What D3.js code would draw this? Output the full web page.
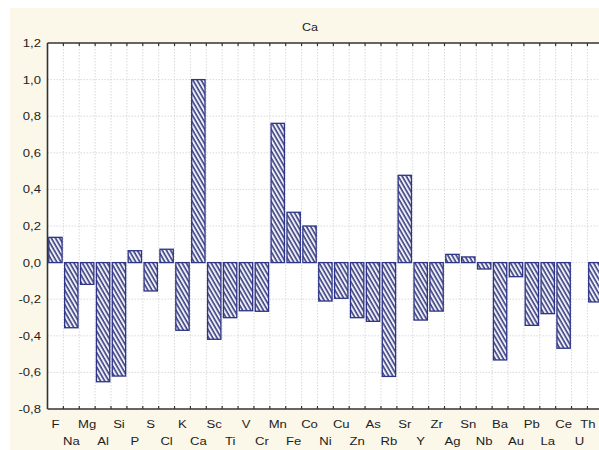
<!DOCTYPE html>
<html>
<head>
<meta charset="utf-8">
<script src="https://cdn.jsdelivr.net/npm/d3@7"></script>
<style>
  html, body { margin: 0; padding: 0; background: #ffffff; overflow: hidden; }
  svg { display: block; }
  text { font-family: "Liberation Sans", Arial, sans-serif; fill: #1e1e1e; }
</style>
</head>
<body>
<div id="chart"></div>
<script>
// Correlation of each element with Ca
const elements = ["F","Na","Mg","Al","Si","P","S","Cl","K","Ca","Sc","Ti","V","Cr","Mn","Fe","Co",
  "Ni","Cu","Zn","As","Rb","Sr","Y","Zr","Ag","Sn","Nb","Ba","Au","Pb","La","Ce","U","Th"];
const correlations = [0.138,-0.356,-0.119,-0.651,-0.62,0.065,-0.155,0.073,-0.37,1.0,-0.419,-0.301,-0.263,-0.266,0.761,0.275,0.2,
  -0.21,-0.195,-0.301,-0.321,-0.622,0.477,-0.314,-0.265,0.045,0.031,-0.035,-0.532,-0.077,-0.343,-0.279,-0.468,0,-0.215];
const yTicks = [-0.8,-0.6,-0.4,-0.2,0.0,0.2,0.4,0.6,0.8,1.0,1.2];
const chartTitle = "Ca";

const W = 599, H = 450;
const margin = { left: 47.5, top: 43, right: 603.3, bottom: 409 };
const stretch = 1.14; // glyphs are drawn slightly wide

const svg = d3.select("#chart").append("svg").attr("width", W).attr("height", H);

// panel background
svg.append("rect").attr("x", 10).attr("y", 8).attr("width", 640).attr("height", 450).attr("fill", "#fbf7e9");
svg.append("rect").attr("x", margin.left).attr("y", margin.top)
  .attr("width", margin.right - margin.left).attr("height", margin.bottom - margin.top).attr("fill", "#ffffff");

const x = d3.scaleBand().domain(elements).range([margin.left, margin.right]).paddingInner(0.16).paddingOuter(0.08);
const xb = d3.scaleBand().domain(elements).range([margin.left, margin.right]);
const y = d3.scaleLinear().domain([-0.8, 1.2]).range([margin.bottom, margin.top]);

// hatch pattern
const defs = svg.append("defs");
const pat = defs.append("pattern").attr("id", "hatch").attr("patternUnits", "userSpaceOnUse")
  .attr("width", 3.6).attr("height", 10).attr("patternTransform", "rotate(-30)");
pat.append("rect").attr("width", 3.6).attr("height", 10).attr("fill", "#eceef8");
pat.append("line").attr("x1", 1).attr("y1", 0).attr("x2", 1).attr("y2", 10)
  .attr("stroke", "#262a6e").attr("stroke-width", 1.4);

// grid lines
const grid = svg.append("g");
elements.forEach((e, i) => {
  if (i === 0) return;
  grid.append("line").attr("x1", xb(e)).attr("x2", xb(e)).attr("y1", margin.top).attr("y2", margin.bottom)
    .attr("stroke", "#cfcfcf").attr("stroke-width", 0.8).attr("stroke-dasharray", "1.5,1.5");
});
yTicks.forEach(t => {
  if (t === -0.8 || t === 1.2) return;
  grid.append("line").attr("x1", margin.left).attr("x2", margin.right).attr("y1", y(t)).attr("y2", y(t))
    .attr("stroke", "#cfcfcf").attr("stroke-width", 0.8).attr("stroke-dasharray", "1.5,1.5");
});

// bars
svg.append("g").selectAll("rect").data(elements.map((e, i) => ({ e, v: correlations[i] })))
  .join("rect")
  .filter(d => d.v !== 0)
  .attr("x", d => x(d.e))
  .attr("width", x.bandwidth())
  .attr("y", d => y(Math.max(0, d.v)))
  .attr("height", d => Math.abs(y(d.v) - y(0)))
  .attr("fill", "url(#hatch)")
  .attr("stroke", "#2e3488")
  .attr("stroke-width", 1.3);

// frame
const frame = svg.append("g").attr("stroke", "#333").attr("stroke-width", 1.6);
frame.append("line").attr("x1", margin.left).attr("x2", margin.right).attr("y1", margin.top).attr("y2", margin.top);
frame.append("line").attr("x1", margin.left).attr("x2", margin.right).attr("y1", margin.bottom).attr("y2", margin.bottom);
frame.append("line").attr("x1", margin.left).attr("x2", margin.left).attr("y1", margin.top).attr("y2", margin.bottom);
frame.append("line").attr("x1", margin.right).attr("x2", margin.right).attr("y1", margin.top).attr("y2", margin.bottom);

// category ticks on top and bottom edges
const ticks = svg.append("g").attr("stroke", "#333").attr("stroke-width", 1.2);
elements.forEach((e, i) => {
  if (i === 0) return;
  ticks.append("line").attr("x1", xb(e)).attr("x2", xb(e)).attr("y1", margin.top).attr("y2", margin.top + 3);
  ticks.append("line").attr("x1", xb(e)).attr("x2", xb(e)).attr("y1", margin.bottom).attr("y2", margin.bottom - 3);
});
yTicks.forEach(t => {
  ticks.append("line").attr("x1", margin.right).attr("x2", margin.right - 4).attr("y1", y(t)).attr("y2", y(t));
});

// y axis labels
const fmt = v => d3.format(".1f")(v).replace(".", ",").replace("−", "-");
svg.append("g").selectAll("text").data(yTicks).join("text")
  .attr("transform", d => `translate(41,${y(d) + 4}) scale(${stretch},1)`)
  .attr("text-anchor", "end").attr("font-size", 11.5)
  .text(d => fmt(d));

// x axis labels, alternating rows
svg.append("g").selectAll("text").data(elements).join("text")
  .attr("transform", (d, i) => `translate(${Math.min(xb(d) + xb.bandwidth() / 2, 588)},${i % 2 === 0 ? 428 : 444.5}) scale(${stretch},1)`)
  .attr("text-anchor", "middle").attr("font-size", 11.5)
  .text(d => d);

// title
svg.append("text").attr("transform", `translate(310,31) scale(${stretch},1)`).attr("text-anchor", "middle")
  .attr("font-size", 11).text(chartTitle);
</script>
</body>
</html>
